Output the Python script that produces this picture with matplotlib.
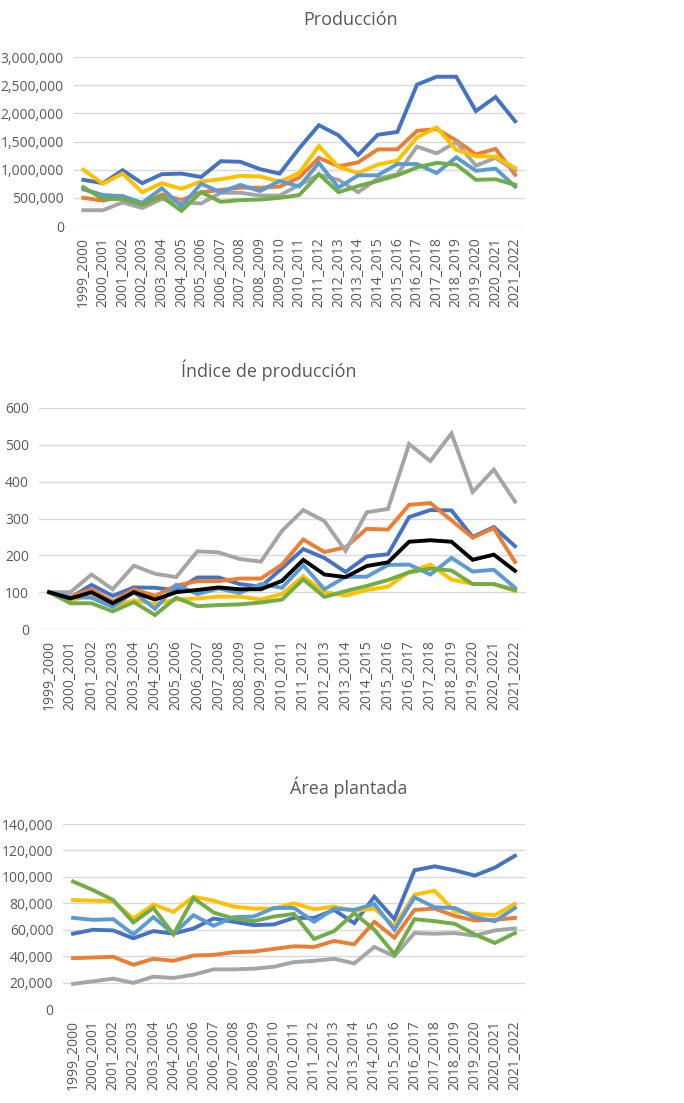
import numpy as np
import matplotlib.pyplot as plt
from matplotlib.ticker import FuncFormatter

plt.rcParams['font.family'] = ['Open Sans', 'DejaVu Sans']

years = ['1999_2000', '2000_2001', '2001_2002', '2002_2003', '2003_2004', '2004_2005',
         '2005_2006', '2006_2007', '2007_2008', '2008_2009', '2009_2010', '2010_2011',
         '2011_2012', '2012_2013', '2013_2014', '2014_2015', '2015_2016', '2016_2017',
         '2017_2018', '2018_2019', '2019_2020', '2020_2021', '2021_2022']

# Produccion (thousands)
prod_blue = [820, 760, 990, 760, 920, 930, 870, 1150, 1140, 1010, 930, 1380, 1790, 1610,
             1260, 1620, 1670, 2510, 2650, 2650, 2040, 2290, 1860]
prod_orange = [500, 450, 530, 390, 560, 460, 600, 640, 680, 680, 700, 860, 1210, 1060,
               1130, 1360, 1360, 1690, 1720, 1520, 1270, 1370, 910]
prod_gray = [280, 280, 420, 320, 480, 420, 400, 590, 590, 540, 540, 730, 910, 820,
             600, 840, 920, 1410, 1290, 1490, 1070, 1210, 980]
prod_yellow = [1000, 750, 930, 600, 760, 660, 790, 830, 890, 880, 790, 940, 1420, 1050,
               940, 1090, 1160, 1570, 1750, 1350, 1240, 1230, 1030]
prod_lblue = [650, 550, 530, 410, 670, 350, 750, 600, 730, 620, 800, 700, 1120, 680,
              900, 900, 1100, 1100, 940, 1220, 980, 1020, 700]
prod_green = [690, 480, 480, 380, 520, 270, 600, 430, 460, 470, 500, 550, 920, 600,
              710, 800, 900, 1040, 1120, 1090, 820, 830, 730]

# Indice de produccion
idx_blue = [100, 85, 120, 90, 113, 112, 105, 140, 140, 122, 115, 165, 217, 193, 155, 197,
            203, 304, 323, 322, 250, 277, 225]
idx_orange = [100, 88, 108, 75, 108, 90, 118, 130, 130, 137, 137, 175, 243, 209, 222, 272,
              270, 337, 342, 295, 248, 274, 182]
idx_gray = [100, 100, 148, 108, 172, 150, 141, 211, 208, 190, 183, 267, 323, 293, 212, 317,
            326, 502, 456, 531, 372, 433, 346]
idx_yellow = [100, 78, 92, 62, 78, 68, 80, 83, 88, 88, 80, 95, 143, 100, 91, 106,
              115, 155, 175, 134, 123, 122, 103]
idx_lblue = [100, 87, 85, 60, 100, 55, 120, 95, 110, 98, 122, 112, 173, 108, 142, 142,
             174, 175, 148, 193, 156, 161, 112]
idx_green = [100, 70, 70, 48, 73, 38, 85, 62, 65, 67, 72, 80, 135, 87, 103, 117,
             133, 154, 164, 159, 122, 122, 106]
idx_black = [100, 83, 100, 70, 100, 80, 100, 106, 113, 108, 108, 131, 188, 148, 141, 171,
             181, 237, 241, 237, 188, 202, 158]

# Area plantada
area_blue = [57000, 60000, 59500, 53500, 59000, 57000, 61000, 68500, 66000, 63500, 64000,
             69000, 69000, 75000, 65000, 85000, 68000, 105000, 108000, 105000, 101000,
             107000, 116000]
area_orange = [38500, 39000, 39500, 33500, 38000, 36500, 40500, 41000, 43000, 43500, 45500,
               47500, 47000, 51500, 49000, 66000, 54000, 75000, 76000, 70500, 67000,
               67500, 69000]
area_gray = [19000, 21000, 23000, 19800, 24500, 23500, 26000, 30000, 30000, 30500, 32000,
             35500, 36500, 38000, 34500, 47000, 40000, 57500, 57000, 57500, 55500,
             59500, 61000]
area_yellow = [82500, 82000, 81500, 68500, 79000, 73500, 85000, 82000, 77500, 76000, 76000,
               80000, 75500, 77500, 74000, 76000, 63000, 86500, 89500, 74000, 72000,
               71000, 79500]
area_lblue = [69000, 67500, 68000, 56500, 69500, 57000, 71000, 63000, 69500, 70000, 76500,
              76500, 66000, 76000, 75000, 79500, 60000, 84500, 77000, 76500, 69500,
              66500, 76500]
area_green = [96500, 90000, 82500, 65500, 76500, 56500, 84000, 73000, 68500, 66500, 70000,
              72000, 53000, 59000, 72500, 60000, 41500, 68000, 66500, 64500, 56500,
              50000, 57500]

colors = ['#4472C4', '#ED7D31', '#A5A5A5', '#FFC000', '#5B9BD5', '#70AD47']
textcol = '#595959'

fig = plt.figure(figsize=(6.84, 11.03), dpi=100)


def setup(ax, ymax, step, fmt):
    ax.set_xlim(-0.5, len(years) - 0.5)
    ax.set_ylim(0, ymax)
    ax.set_yticks(np.arange(0, ymax + 1, step))
    ax.yaxis.set_major_formatter(FuncFormatter(fmt))
    ax.grid(axis='y', color='#D9D9D9', lw=1)
    ax.set_axisbelow(True)
    for s in ax.spines.values():
        s.set_visible(False)
    ax.set_xticks(np.arange(len(years)))
    ax.set_xticklabels(years, rotation=90, fontsize=10, color=textcol)
    ax.tick_params(axis='both', length=0, colors=textcol)
    ax.tick_params(axis='y', pad=7, labelsize=10)
    ax.tick_params(axis='x', pad=8)


x = np.arange(len(years))

# Produccion
ax1 = fig.add_axes([0.1075, 0.7951, 0.66, 0.1532])
for vals, c in zip([prod_blue, prod_orange, prod_gray, prod_yellow, prod_lblue, prod_green], colors):
    ax1.plot(x, np.array(vals) * 1000, color=c, lw=2.8, solid_joinstyle='miter')
setup(ax1, 3000000, 500000, lambda v, p: f'{int(v):,}')
fig.text(351 / 684, 1 - 20 / 1103, 'Producción', ha='center', va='center', fontsize=13, color=textcol)

# Indice de produccion
ax2 = fig.add_axes([0.0564, 0.4297, 0.712, 0.2004])
for vals, c in zip([idx_blue, idx_orange, idx_gray, idx_yellow, idx_lblue, idx_green], colors):
    ax2.plot(x, vals, color=c, lw=2.8, solid_joinstyle='miter')
ax2.plot(x, idx_black, color='black', lw=2.8, solid_joinstyle='miter')
setup(ax2, 600, 100, lambda v, p: f'{int(v)}')
fig.text(269 / 684, 1 - 370 / 1103, 'Índice de producción', ha='center', va='center', fontsize=13, color=textcol)

# Area plantada
ax3 = fig.add_axes([0.0921, 0.0852, 0.6754, 0.1677])
for vals, c in zip([area_blue, area_orange, area_gray, area_yellow, area_lblue, area_green], colors):
    ax3.plot(x, vals, color=c, lw=2.8, solid_joinstyle='miter')
setup(ax3, 140000, 20000, lambda v, p: f'{int(v):,}')
fig.text(349 / 684, 1 - 787 / 1103, 'Área plantada', ha='center', va='center', fontsize=13, color=textcol)

fig.savefig('out.png', dpi=100)
